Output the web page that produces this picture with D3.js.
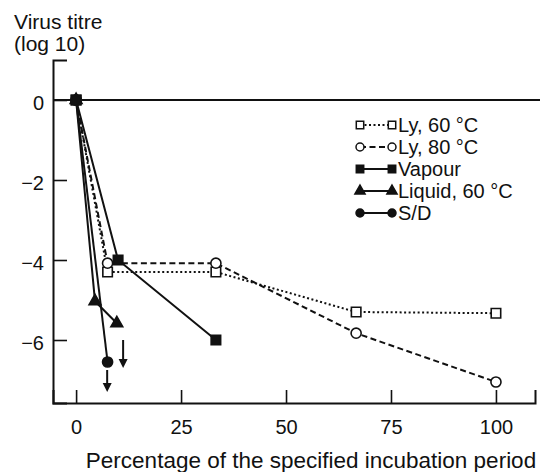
<!DOCTYPE html>
<html>
<head>
<meta charset="utf-8">
<script src="https://cdn.jsdelivr.net/npm/d3@7"></script>
<style>
  body { margin: 0; background: #fff; }
  text { font-family: "Liberation Sans", Arial, sans-serif; fill: #111; }
</style>
</head>
<body>
<div id="chart"></div>
<script>
var width = 545;
var height = 472;

// data
var seriesNames = ["Ly, 60 °C", "Ly, 80 °C", "Vapour", "Liquid, 60 °C", "S/D"];
var ly60X = [0, 7.5, 33.3, 66.7, 100];
var ly60Y = [0, -4.3, -4.3, -5.3, -5.33];
var ly80X = [0, 7.5, 33.3, 66.7, 100];
var ly80Y = [0, -4.08, -4.08, -5.83, -7.05];
var vapourX = [0, 10, 33.3];
var vapourY = [0, -4, -6];
var liquidX = [0, 4.5, 9.7];
var liquidY = [0, -5.03, -5.58];
var sdX = [0, 7.5];
var sdY = [0, -6.55];
// "below detection" arrows
var arrowX = [11.2, 7.4];
var arrowTop = [-6.0, -6.75];
var arrowBottom = [-6.7, -7.3];

var xTicks = [0, 25, 50, 75, 100];
var yTicks = [0, -2, -4, -6];

var svg = d3.select("#chart")
  .append("svg")
  .attr("width", width)
  .attr("height", height);

var xScale = d3.scaleLinear().domain([-5.5, 109.3]).range([53, 535]);
var yScale = d3.scaleLinear().domain([-7.575, 1]).range([403, 60]);

// axes
var yAxis = d3.axisLeft(yScale).tickValues(yTicks).tickSize(-14).tickPadding(9)
  .tickFormat(d => d === 0 ? "0" : "\u2212" + Math.abs(d));
var xAxis = d3.axisBottom(xScale).tickValues(xTicks).tickSize(-13).tickPadding(17);

var gy = svg.append("g").attr("transform", "translate(" + xScale.range()[0] + ",0)").call(yAxis);
var gx = svg.append("g").attr("transform", "translate(0," + yScale.range()[0] + ")").call(xAxis);

[gx, gy].forEach(function(g) {
  g.select(".domain").attr("stroke", "#111").attr("stroke-width", 2);
  g.selectAll(".tick line").attr("stroke", "#111").attr("stroke-width", 1.6);
  g.selectAll(".tick text").attr("font-size", 20).attr("fill", "#111")
    .attr("font-family", "Liberation Sans, Arial, sans-serif");
});
gy.selectAll(".tick text").attr("x", -9).attr("dy", "0.45em");

// zero line
svg.append("line")
  .attr("x1", xScale.range()[0]).attr("x2", 540)
  .attr("y1", yScale(0)).attr("y2", yScale(0))
  .attr("stroke", "#111").attr("stroke-width", 1.8);

// titles
svg.append("text").attr("x", 14).attr("y", 29).attr("font-size", 21).text("Virus titre");
svg.append("text").attr("x", 14).attr("y", 51).attr("font-size", 21).text("(log 10)");
svg.append("text").attr("x", 311).attr("y", 468).attr("font-size", 22.5)
  .attr("text-anchor", "middle").text("Percentage of the specified incubation period");

var series = [
  { name: seriesNames[0], xs: ly60X, ys: ly60Y, dash: "2,2.5", marker: "square", fill: "#fff" },
  { name: seriesNames[1], xs: ly80X, ys: ly80Y, dash: "6,3.5", marker: "circle", fill: "#fff" },
  { name: seriesNames[2], xs: vapourX, ys: vapourY, dash: null, marker: "square", fill: "#111" },
  { name: seriesNames[3], xs: liquidX, ys: liquidY, dash: null, marker: "triangle", fill: "#111" },
  { name: seriesNames[4], xs: sdX, ys: sdY, dash: null, marker: "circle", fill: "#111" }
];

var symbolOf = {
  square: d3.symbol().type(d3.symbolSquare).size(90),
  circle: d3.symbol().type(d3.symbolCircle).size(80),
  triangle: d3.symbol().type(d3.symbolTriangle).size(60)
};
var legendSymbolOf = {
  square: d3.symbol().type(d3.symbolSquare).size(55),
  circle: d3.symbol().type(d3.symbolCircle).size(50),
  triangle: d3.symbol().type(d3.symbolTriangle).size(45)
};

var line = d3.line().x(d => xScale(d[0])).y(d => yScale(d[1]));

series.forEach(function(s) {
  var pts = s.xs.map((x, i) => [x, s.ys[i]]);
  svg.append("path")
    .attr("d", line(pts))
    .attr("fill", "none")
    .attr("stroke", "#111")
    .attr("stroke-width", 2)
    .attr("stroke-dasharray", s.dash);
});

series.forEach(function(s) {
  var pts = s.xs.map((x, i) => [x, s.ys[i]]);
  svg.selectAll(null).data(pts).enter()
    .append("path")
    .attr("d", symbolOf[s.marker])
    .attr("transform", d => "translate(" + xScale(d[0]) + "," + yScale(d[1]) + ")")
    .attr("fill", s.fill)
    .attr("stroke", "#111")
    .attr("stroke-width", 1.6);
});

// arrows
arrowX.forEach(function(x, i) {
  var ax = xScale(x), y1 = yScale(arrowTop[i]), y2 = yScale(arrowBottom[i]);
  svg.append("line").attr("x1", ax).attr("x2", ax).attr("y1", y1).attr("y2", y2 - 6)
    .attr("stroke", "#111").attr("stroke-width", 2);
  svg.append("path")
    .attr("d", "M" + (ax - 4.5) + "," + (y2 - 9) + "L" + (ax + 4.5) + "," + (y2 - 9) + "L" + ax + "," + y2 + "Z")
    .attr("fill", "#111");
});

// legend
var legend = svg.append("g").attr("transform", "translate(360,125)");
series.forEach(function(s, i) {
  var g = legend.append("g").attr("transform", "translate(0," + (i * 22) + ")");
  g.append("line").attr("x1", 0).attr("x2", 32).attr("y1", 0).attr("y2", 0)
    .attr("stroke", "#111").attr("stroke-width", 2).attr("stroke-dasharray", s.dash);
  [0, 32].forEach(function(mx) {
    g.append("path").attr("d", legendSymbolOf[s.marker])
      .attr("transform", "translate(" + mx + ",0)")
      .attr("fill", s.fill).attr("stroke", "#111").attr("stroke-width", 1.5);
  });
  g.append("text").attr("x", 38).attr("y", 0).attr("dy", "0.36em")
    .attr("font-size", 20).text(s.name);
});
</script>
</body>
</html>
